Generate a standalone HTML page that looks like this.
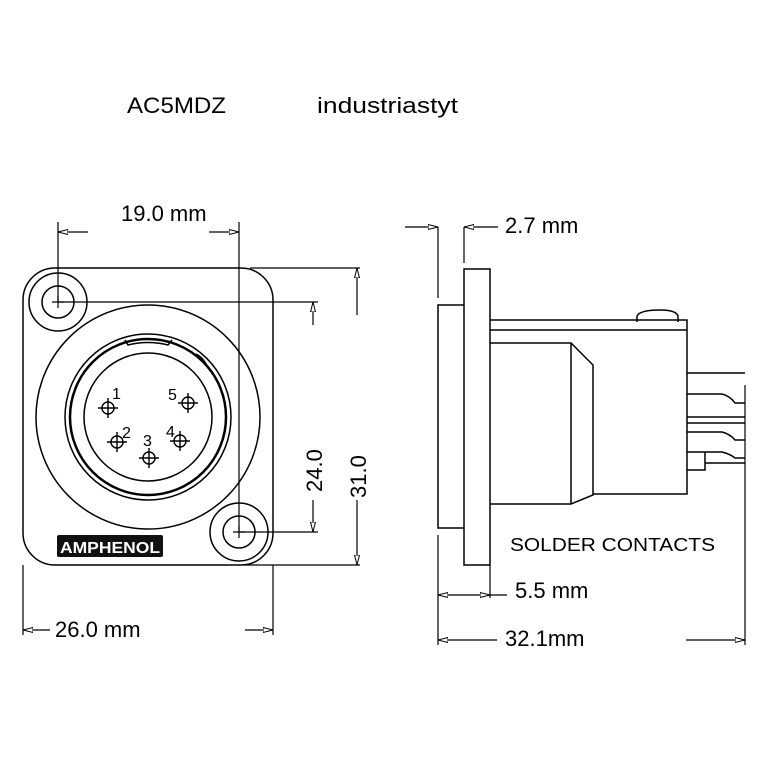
<!DOCTYPE html>
<html><head><meta charset="utf-8"><style>
html,body{margin:0;padding:0;background:#fff;}
svg{display:block;}
text{font-family:"Liberation Sans",sans-serif;fill:#000;}
</style></head><body>
<svg width="775" height="775" viewBox="0 0 775 775" xmlns="http://www.w3.org/2000/svg">
<defs>
<marker id="a" viewBox="0 0 10 6" refX="10" refY="3" markerWidth="10" markerHeight="6" orient="auto" markerUnits="userSpaceOnUse"><path d="M0,0.5 L10,3 L0,5.5 Z" fill="#fff" stroke="#000" stroke-width="1"/></marker>
<g id="p" stroke="#000" stroke-width="1.4" fill="none"><circle r="6"/><path d="M-10,0h20M0,-10v20"/></g>
</defs>
<text x="127" y="113" font-size="22" textLength="99" lengthAdjust="spacingAndGlyphs">AC5MDZ</text>
<text x="317" y="113" font-size="22" textLength="141" lengthAdjust="spacingAndGlyphs">industriastyt</text>

<g fill="none" stroke="#000" stroke-width="1.5">
<rect x="23" y="268" width="250" height="297" rx="32"/>
<circle cx="58" cy="302" r="29"/><circle cx="58" cy="302" r="16"/>
<circle cx="239" cy="532" r="29"/><circle cx="239" cy="532" r="16"/>
<circle cx="148" cy="417" r="112"/>
<circle cx="148" cy="417" r="83"/>
<circle cx="148" cy="417" r="78" stroke-width="2.5"/>
<circle cx="148" cy="417" r="64"/>
<path d="M125,340 L128,345 Q148,340 168,345 L172,340" />
<path d="M196,354 Q204,358 208,368"/>
</g>
<g stroke="#000" stroke-width="1.2" fill="none">
<path d="M52,302h12M58,296v12M233,532h12M239,526v12"/>
</g>
<use href="#p" x="108" y="408"/><use href="#p" x="188" y="403"/>
<use href="#p" x="117" y="442"/><use href="#p" x="149" y="458"/><use href="#p" x="180" y="441"/>
<g font-size="16">
<text x="112" y="399">1</text><text x="168" y="400">5</text>
<text x="122" y="438">2</text><text x="143" y="446">3</text><text x="166" y="437">4</text>
</g>
<rect x="57" y="535" width="106" height="22" rx="2" fill="#111"/>
<text x="60" y="553" font-size="16" font-weight="bold" style="fill:#fff" textLength="100" lengthAdjust="spacingAndGlyphs">AMPHENOL</text>

<g stroke="#000" stroke-width="1.2" fill="none">
<path d="M58,222V302M239,222V532"/>
<path d="M88,232H58" marker-end="url(#a)"/><path d="M209,232H239" marker-end="url(#a)"/>
<path d="M250,268H360M58,302H318M239,532H318M245,565H360"/>
<path d="M313,325V302" marker-end="url(#a)"/><path d="M313,500V532" marker-end="url(#a)"/>
<path d="M357,315V268" marker-end="url(#a)"/><path d="M357,500V565" marker-end="url(#a)"/>
<path d="M23,565V635M273,565V635"/>
<path d="M50,630H23" marker-end="url(#a)"/><path d="M245,630H273" marker-end="url(#a)"/>
</g>
<text x="121" y="221" font-size="22">19.0 mm</text>
<text x="55" y="637" font-size="22">26.0 mm</text>
<text transform="translate(322,492) rotate(-90)" font-size="22">24.0</text>
<text transform="translate(366,498) rotate(-90)" font-size="22">31.0</text>

<g fill="none" stroke="#000" stroke-width="1.5">
<rect x="464" y="269" width="26" height="296"/>
<path d="M464,305H438V528H464"/>
<path d="M490,320H687V494H593"/>
<path d="M490,330H687"/>
<path d="M490,343H571L593,365V495L571,504H490"/>
<path d="M571,343V504"/>
<path d="M637,322V316Q640,310 660,310Q676,310 678,316V322"/>
<path d="M687,373H745M687,394H722Q730,396 735,403H745M687,417H745M687,423H745M687,432H722Q730,434 735,440H745M687,452H705V470H687M705,452H722Q730,454 735,458H745M705,463H745"/>
</g>
<g stroke="#000" stroke-width="1.2" fill="none">
<path d="M438,227V298M464,227V263M438,535V645M490,565V598M745,385V645"/>
<path d="M405,227H438" marker-end="url(#a)"/><path d="M498,227H464" marker-end="url(#a)"/>
<path d="M464,595H438" marker-end="url(#a)"/><path d="M464,595H490" marker-end="url(#a)"/><path d="M490,595H507"/>
<path d="M497,640H438" marker-end="url(#a)"/><path d="M686,640H745" marker-end="url(#a)"/>
</g>
<text x="505" y="233" font-size="22">2.7 mm</text>
<text x="515" y="598" font-size="22">5.5 mm</text>
<text x="505" y="646" font-size="22">32.1mm</text>
<text x="510" y="551" font-size="18" textLength="205" lengthAdjust="spacingAndGlyphs">SOLDER CONTACTS</text>
</svg>
</body></html>
